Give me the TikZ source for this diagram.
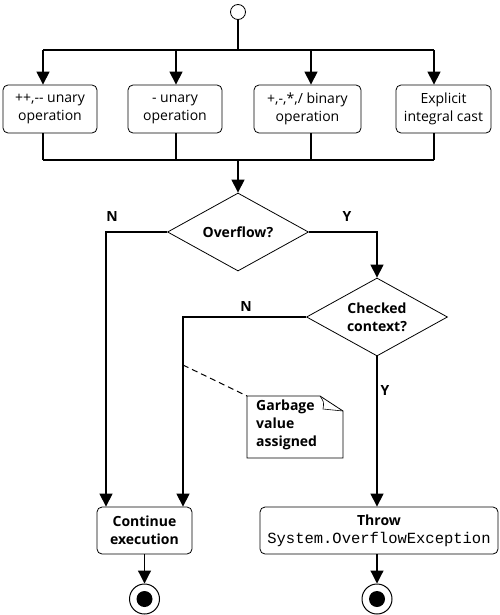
\documentclass[tikz,border=0pt]{standalone}
\usepackage{fontspec}
\setmainfont{Open Sans}
\newfontfamily\codefont{Liberation Mono}
\usetikzlibrary{arrows.meta, shapes.geometric, positioning}

\tikzset{
  flow/.style={line width=1.2pt, -{Triangle[width=13pt,length=13pt]}},
  wire/.style={line width=1.2pt},
  action/.style={draw, line width=0.8pt, rounded corners=5pt, align=center,
    inner sep=2pt, minimum height=48pt, font=\fontsize{14}{18}\selectfont},
  decision/.style={draw, diamond, line width=0.8pt, aspect=1.8, inner sep=0pt,
    minimum width=141pt, minimum height=78pt, align=center,
    font=\bfseries\fontsize{14}{18}\selectfont},
  guard/.style={font=\bfseries\fontsize{14}{18}\selectfont, inner sep=0pt},
  initial/.style={circle, draw, line width=0.8pt, minimum size=15pt, inner sep=0pt},
  final/.style={circle, draw, line width=1pt, minimum size=30pt, inner sep=0pt,
    path picture={\fill (path picture bounding box.center) circle (8pt);}},
}

\begin{document}
\begin{tikzpicture}[x=1pt, y=-1pt]
  \useasboundingbox (0,0) rectangle (500,615);

  % start and fork
  \node[initial] (start) at (238,12) {};
  \coordinate (fork) at (238,50);
  \coordinate (join) at (238,160);
  \coordinate (c1) at (43,50);
  \coordinate (c2) at (176,50);
  \coordinate (c3) at (311,50);
  \coordinate (c4) at (434,50);

  % operations
  \node[action, minimum width=94pt] (unary) at (50,109) {+{}+,-{}- unary\\operation};
  \node[action, minimum width=94pt] (neg) at (175,109) {- unary\\operation};
  \node[action, minimum width=107pt] (binary) at (307.5,109) {+,-,*,/ binary\\operation};
  \node[action, minimum width=95pt] (cast) at (443.5,109) {Explicit\\integral cast};

  \draw[wire] (start) -- (fork);
  \draw[wire] (c1) -- (c4);
  \foreach \c/\b in {c1/unary, c2/neg, c3/binary, c4/cast} {
    \draw[flow] (\c) -- (\c |- \b.north);
    \draw[wire] (\c |- \b.south) -- (\c |- join);
  }
  \draw[wire] (c1 |- join) -- (c4 |- join);

  % decisions
  \node[decision] (ovf) at (238,232) {Overflow?};
  \node[decision] (chk) at (377,317) {Checked\\context?};
  \draw[flow] (join) -- (ovf.north);

  % results
  \node[action, minimum width=95pt, minimum height=47pt,
    font=\bfseries\fontsize{14}{18}\selectfont] (cont) at (144.5,530.5) {Continue\\execution};
  \node[action, minimum width=238pt, minimum height=47pt] (throw) at (379,530.5)
    {\textbf{Throw}\\{\codefont\fontsize{15.5}{18}\selectfont System.OverflowException}};
  \coordinate (lane1) at (106,0);
  \coordinate (lane2) at (183,0);

  \draw[flow] (ovf.west) -| (lane1 |- cont.north);
  \draw[flow] (ovf.east) -| (chk.north);
  \draw[flow] (chk.west) -| (lane2 |- cont.north);
  \draw[flow] (chk.south) -- (chk.south |- throw.north);

  \node[guard] (n1) at (112,217) {N};
  \node[guard] (y1) at (347,217) {Y};
  \node[guard] (n2) at (246,306) {N};
  \node[guard] (y2) at (385,390) {Y};

  % note
  \coordinate (tie) at (183,365);
  \coordinate (corner) at (247,396);
  \draw[line width=0.8pt] (corner) -- (320,396) -- (343,411) -- (343,458)
    -- (247,458) -- cycle;
  \draw[line width=0.6pt] (320,396) .. controls (324,402) .. (323,409) -- (343,411);
  \draw[line width=1pt, dashed, dash pattern=on 6pt off 4pt] (tie) -- (corner);
  \node[anchor=north west, align=left, inner sep=0pt,
    font=\bfseries\fontsize{14}{18}\selectfont] (note) at (256,400) {Garbage\\value\\assigned};

  % ends
  \node[final] (end1) at (144.5,599) {};
  \node[final] (end2) at (377,599) {};
  \draw[flow] (cont) -- (end1);
  \draw[flow] (throw.south -| end2) -- (end2);
\end{tikzpicture}
\end{document}
